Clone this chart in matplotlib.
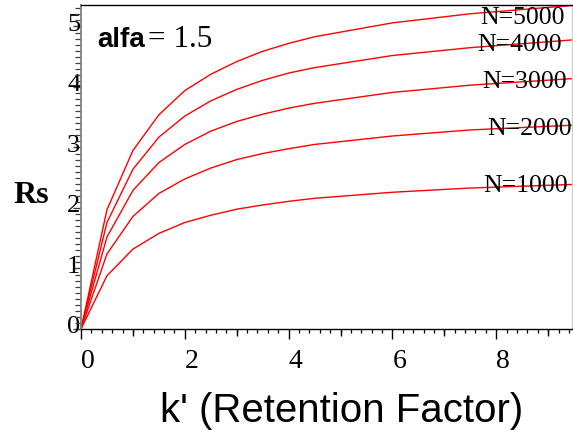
import matplotlib
matplotlib.use('Agg')
import matplotlib.pyplot as plt
from matplotlib.ticker import MultipleLocator, FixedLocator
from matplotlib.transforms import ScaledTranslation

# ---- data ----
k_values = [0, 0.5, 1, 1.5, 2, 2.5, 3, 3.5, 4, 4.5, 6, 7.5, 9.5]
rs_n1000 = [0, 0.88, 1.32, 1.58, 1.76, 1.88, 1.98, 2.05, 2.11, 2.16, 2.26, 2.33, 2.39]
rs_n2000 = [0, 1.24, 1.86, 2.24, 2.48, 2.66, 2.80, 2.90, 2.98, 3.05, 3.19, 3.29, 3.37]
rs_n3000 = [0, 1.52, 2.29, 2.75, 3.05, 3.27, 3.43, 3.55, 3.65, 3.73, 3.91, 4.03, 4.14]
rs_n4000 = [0, 1.76, 2.64, 3.17, 3.52, 3.77, 3.96, 4.11, 4.23, 4.32, 4.52, 4.65, 4.78]
rs_n5000 = [0, 1.97, 2.95, 3.54, 3.94, 4.21, 4.42, 4.59, 4.72, 4.83, 5.06, 5.21, 5.35]
series_labels = ["N=1000", "N=2000", "N=3000", "N=4000", "N=5000"]
x_tick_values = [0, 2, 4, 6, 8]
y_tick_values = [0, 1, 2, 3, 4, 5]
alfa_name = "alfa"
alfa_value = "= 1.5"
x_title = "k' (Retention Factor)"
y_title = "Rs"

SERIF = ['Liberation Serif', 'DejaVu Serif']
SANS = ['Liberation Sans', 'DejaVu Sans']

W, H, DPI = 573, 431, 100
fig = plt.figure(figsize=(W / DPI, H / DPI), dpi=DPI)
ax = fig.add_axes([81 / W, 1 - 330 / H, 491 / W, 324 / H])

all_series = [rs_n1000, rs_n2000, rs_n3000, rs_n4000, rs_n5000]
for vals in all_series:
    ax.plot(k_values, vals, color='#ff0000', lw=1.0, clip_on=True)

ax.set_xlim(0, 9.46)
ax.set_ylim(0, 5.355)

# spines
ax.spines['top'].set_color('black')
ax.spines['top'].set_linewidth(1.0)
ax.spines['bottom'].set_color('black')
ax.spines['bottom'].set_linewidth(1.0)
ax.spines['left'].set_color('#808080')
ax.spines['left'].set_linewidth(1.3)
ax.spines['right'].set_color('#d0d0d0')
ax.spines['right'].set_linewidth(1.0)

# x ticks
ax.xaxis.set_major_locator(FixedLocator(x_tick_values))
ax.xaxis.set_minor_locator(MultipleLocator(0.2))
ax.tick_params(axis='x', which='major', direction='out', length=7, width=1.0,
               color='black', pad=7, labelsize=20)
ax.tick_params(axis='x', which='minor', direction='out', length=3, width=0.9,
               color='black')
ax.set_xticklabels([str(v) for v in x_tick_values], family=SERIF)
for lab in ax.get_xticklabels():
    lab.set_transform(lab.get_transform() + ScaledTranslation(7 / DPI, 0, fig.dpi_scale_trans))

# medium ticks at odd integers
sec = ax.secondary_xaxis(0)
sec.set_xticks([1, 3, 5, 7, 9])
sec.tick_params(axis='x', direction='out', length=5, width=1.0, color='black',
                labelbottom=False)
sec.spines['bottom'].set_visible(False)

# y ticks
ax.yaxis.set_major_locator(FixedLocator(y_tick_values))
ax.yaxis.set_minor_locator(MultipleLocator(0.1))
ax.tick_params(axis='y', which='major', direction='out', length=5.5, width=1.0,
               color='#404040', pad=-5, labelsize=19)
ax.tick_params(axis='y', which='minor', direction='out', length=4.5, width=0.9,
               color='#404040')
ax.set_yticklabels([str(v) for v in y_tick_values], family=SERIF)
for lab in ax.get_yticklabels():
    lab.set_transform(lab.get_transform() + ScaledTranslation(0, 5 / DPI, fig.dpi_scale_trans))

# curve labels (positions in axes fraction)
label_pos = [(0.819, 0.426), (0.827, 0.602), (0.8167, 0.747), (0.8065, 0.861), (0.8126, 0.944)]
for lbl, (px, py) in zip(series_labels, label_pos):
    ax.text(px, py, lbl, transform=ax.transAxes, family=SERIF, fontsize=18.5,
            ha='left', va='baseline', color='black')

# alfa annotation
ax.text(0.0326, 0.873, alfa_name, transform=ax.transAxes, family=SANS,
        fontweight='bold', fontsize=20, ha='left', va='baseline')
ax.text((148 - 81) / 491, 0.873, alfa_value, transform=ax.transAxes, family=SERIF,
        fontsize=22.5, ha='left', va='baseline')

# axis titles
fig.text(342 / W, (H - 422) / H, x_title, family=SANS, fontsize=29,
         ha='center', va='baseline')
fig.text(31.5 / W, (H - 203) / H, y_title, family=SERIF, fontweight='bold',
         fontsize=23, ha='center', va='baseline')

fig.savefig('out.png', dpi=DPI)
